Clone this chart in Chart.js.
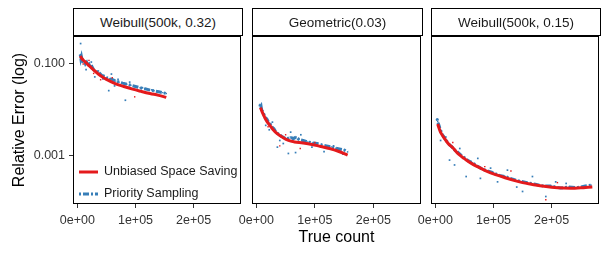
<!DOCTYPE html>
<html>
<head>
<meta charset="utf-8">
<script src="https://cdn.jsdelivr.net/npm/chart.js@4"></script>
<style>
  body { margin: 0; background: #fff; width: 609px; height: 254px; overflow: hidden; position: relative; }
  .panel { position: absolute; top: 32px; height: 222px; }
  .strip {
    position: absolute; top: 8px; height: 26px; border: 1px solid #000; box-sizing: content-box;
    font: 13.5px "Liberation Sans", Arial, sans-serif; color: #1a1a1a;
    display: flex; align-items: center; justify-content: center; background: #fff;
  }
</style>
</head>
<body>
<div class="panel" style="left:0;width:245px;"><canvas id="p0"></canvas></div>
<div class="panel" style="left:232px;width:193px;"><canvas id="p1"></canvas></div>
<div class="panel" style="left:411px;width:192px;"><canvas id="p2"></canvas></div>
<div class="strip" style="left:73px;width:168px;" id="strip0"></div>
<div class="strip" style="left:252px;width:169px;" id="strip1"></div>
<div class="strip" style="left:431px;width:168px;" id="strip2"></div>
<script>
// shared axes
const xTickValues = [0, 100000, 200000];
const xTickLabels = ['0e+00', '1e+05', '2e+05'];
const yTickValues = [0.001, 0.1];
const yTickLabels = ['0.001', '0.100'];
const panelTitles = ['Weibull(500k, 0.32)', 'Geometric(0.03)', 'Weibull(500k, 0.15)'];
const seriesNames = ['Unbiased Space Saving', 'Priority Sampling'];

// Weibull(500k, 0.32)
const w32UssCount = [5000, 8000, 12000, 16000, 20000, 25000, 30000, 40000, 50000, 65000, 80000, 95000, 110000, 125000, 140000, 153000];
const w32UssError = [0.15, 0.13, 0.115, 0.103, 0.092, 0.08, 0.07, 0.055, 0.046, 0.037, 0.032, 0.028, 0.025, 0.0225, 0.0205, 0.0185];
const w32PsCount = [5000, 6000, 7000, 8000, 9000, 10000, 12000, 14000, 16000, 18000, 20000, 22000, 25000, 28000, 31000, 34000, 38000, 42000, 46000, 50000, 55000, 60000, 66000, 72000, 78000, 85000, 92000, 100000, 108000, 116000, 124000, 132000, 140000, 147000, 153000];
const w32PsError = [0.16, 0.13, 0.145, 0.125, 0.13, 0.115, 0.118, 0.10, 0.108, 0.092, 0.098, 0.085, 0.088, 0.075, 0.072, 0.066, 0.063, 0.056, 0.054, 0.050, 0.047, 0.046, 0.042, 0.040, 0.038, 0.036, 0.034, 0.032, 0.030, 0.0285, 0.027, 0.0258, 0.0245, 0.0235, 0.0225];
const w32PsStrayCount = [5600, 58600, 82600, 54000, 70000, 30000, 15000, 24000, 36000, 44000, 64000, 90000, 112000, 128000];
const w32PsStrayError = [0.28, 0.06, 0.016, 0.026, 0.046, 0.052, 0.075, 0.11, 0.07, 0.047, 0.033, 0.04, 0.03, 0.027];
const w32UssStrayCount = [98600, 40000, 20000, 10000, 28000, 60000];
const w32UssStrayError = [0.019, 0.045, 0.12, 0.1, 0.062, 0.05];

// Geometric(0.03)
const geoUssCount = [7000, 10000, 14000, 18000, 23000, 28000, 35000, 44000, 55000, 65000, 80000, 95000, 110000, 125000, 140000, 156000];
const geoUssError = [0.011, 0.0088, 0.0068, 0.0055, 0.0045, 0.0037, 0.003, 0.0025, 0.0021, 0.00195, 0.00185, 0.00172, 0.00155, 0.0014, 0.00122, 0.001];
const geoPsCount = [6000, 7000, 8000, 9000, 10000, 12000, 14000, 16000, 18000, 20000, 23000, 26000, 30000, 34000, 38000, 43000, 48000, 53000, 58000, 63000, 68000, 73000, 80000, 88000, 96000, 104000, 112000, 120000, 128000, 136000, 144000, 150000, 156000];
const geoPsError = [0.013, 0.0112, 0.0118, 0.0098, 0.0095, 0.0082, 0.0075, 0.0066, 0.0062, 0.0055, 0.005, 0.0042, 0.0038, 0.0031, 0.0029, 0.0026, 0.0024, 0.0023, 0.0025, 0.0023, 0.0025, 0.0022, 0.0021, 0.00195, 0.00185, 0.0018, 0.00168, 0.0016, 0.00152, 0.00142, 0.00135, 0.0013, 0.00118];
const geoPsStrayCount = [54700, 67000, 35900, 58600, 27400, 115700, 46000, 16000, 22000, 40000, 76000, 95000, 132000, 148000];
const geoPsStrayError = [0.00109, 0.00114, 0.0015, 0.0032, 0.0053, 0.0012, 0.0018, 0.0045, 0.0036, 0.0021, 0.0028, 0.0015, 0.0016, 0.00105];
const geoUssStrayCount = [40000, 75000, 20000, 50000, 100000];
const geoUssStrayError = [0.0016, 0.0014, 0.0042, 0.0028, 0.0019];

// Weibull(500k, 0.15)
const w15UssCount = [4000, 7000, 10000, 15000, 22000, 30000, 40000, 50000, 62000, 75000, 90000, 105000, 120000, 135000, 150000, 165000, 180000, 200000, 220000, 240000, 255000, 270000];
const w15UssError = [0.0048, 0.0037, 0.003, 0.0024, 0.0018, 0.00145, 0.00105, 0.00084, 0.00066, 0.00054, 0.000435, 0.00037, 0.00032, 0.00028, 0.00025, 0.00023, 0.000213, 0.000198, 0.00019, 0.000189, 0.000194, 0.0002];
const w15PsCount = [3000, 4000, 5000, 6000, 7000, 8000, 10000, 12000, 14000, 17000, 20000, 24000, 28000, 33000, 38000, 44000, 50000, 57000, 64000, 72000, 80000, 90000, 100000, 110000, 120000, 132000, 145000, 158000, 172000, 186000, 200000, 215000, 230000, 245000, 258000, 268000];
const w15PsError = [0.0063, 0.0055, 0.005, 0.0046, 0.0042, 0.0036, 0.0033, 0.0028, 0.0026, 0.0022, 0.002, 0.0017, 0.00155, 0.0013, 0.00118, 0.001, 0.00088, 0.00075, 0.00068, 0.00058, 0.0005, 0.00045, 0.00041, 0.00036, 0.00034, 0.0003, 0.00027, 0.00025, 0.00023, 0.00021, 0.00021, 0.00019, 0.0002, 0.000195, 0.00021, 0.00022];
const w15PsStrayCount = [33000, 53000, 77500, 107000, 150000, 190000, 24400, 124000, 73000, 167000, 207000, 9000, 18000, 42000, 60000, 95000, 140000, 225000];
const w15PsStrayError = [0.00061, 0.00034, 0.00031, 0.00026, 0.00016, 0.000124, 0.00078, 0.00047, 0.00085, 0.00034, 0.00026, 0.0021, 0.0025, 0.0014, 0.0007, 0.00052, 0.0002, 0.00024];
const w15UssStrayCount = [190000, 60000, 130000, 30000, 85000, 210000];
const w15UssStrayError = [0.000105, 0.00068, 0.00045, 0.0019, 0.00056, 0.00025];

const RED = '#E41A1C';
const BLUE = '#377EB8';
const FONT = '"Liberation Sans", Arial, sans-serif';
const PS_DASH = [2, 2, 6, 2];

const zip = (xs, ys) => xs.map((x, i) => ({ x: x, y: ys[i] }));

const panels = [
  { uss: [w32UssCount, w32UssError], ps: [w32PsCount, w32PsError], psStray: [w32PsStrayCount, w32PsStrayError], ussStray: [w32UssStrayCount, w32UssStrayError] },
  { uss: [geoUssCount, geoUssError], ps: [geoPsCount, geoPsError], psStray: [geoPsStrayCount, geoPsStrayError], ussStray: [geoUssStrayCount, geoUssStrayError] },
  { uss: [w15UssCount, w15UssError], ps: [w15PsCount, w15PsError], psStray: [w15PsStrayCount, w15PsStrayError], ussStray: [w15UssStrayCount, w15UssStrayError] },
];

// black frame around each panel
const framePlugin = {
  id: 'frame',
  afterDraw(chart) {
    const a = chart.chartArea, ctx = chart.ctx;
    ctx.save();
    ctx.strokeStyle = '#000';
    ctx.lineWidth = 1;
    ctx.strokeRect(Math.round(a.left) + 0.5, Math.round(a.top) + 0.5, Math.round(a.right - a.left) - 1, Math.round(a.bottom - a.top) - 1);
    ctx.restore();
  }
};

// legend inside the first panel, bottom left
const insideLegend = {
  id: 'insideLegend',
  afterDraw(chart) {
    const ctx = chart.ctx;
    const a = chart.chartArea;
    const rows = [
      { y: a.top + 136, color: RED, width: 3, dash: [] },
      { y: a.top + 158, color: BLUE, width: 3, dash: PS_DASH },
    ];
    ctx.save();
    rows.forEach((r, i) => {
      ctx.beginPath();
      ctx.strokeStyle = r.color;
      ctx.lineWidth = r.width;
      ctx.setLineDash(r.dash);
      ctx.moveTo(79, r.y);
      ctx.lineTo(98, r.y);
      ctx.stroke();
      ctx.setLineDash([]);
      ctx.fillStyle = '#1a1a1a';
      ctx.font = '12.5px ' + FONT;
      ctx.textBaseline = 'middle';
      ctx.fillText(seriesNames[i], 104, r.y);
    });
    ctx.restore();
  }
};

function makeChart(idx) {
  const p = panels[idx];
  const first = idx === 0;
  const middle = idx === 1;
  document.getElementById('strip' + idx).textContent = panelTitles[idx];
  return new Chart(document.getElementById('p' + idx), {
    type: 'line',
    data: {
      datasets: [
        {
          label: seriesNames[0], data: zip(p.uss[0], p.uss[1]),
          borderColor: RED, backgroundColor: RED, borderWidth: 3, pointRadius: 0, tension: 0.4,
        },
        {
          label: 'uss-stray', data: zip(p.ussStray[0], p.ussStray[1]), showLine: false,
          pointStyle: 'rect', pointRadius: 1, borderWidth: 0, backgroundColor: RED,
        },
        {
          label: seriesNames[1], data: zip(p.ps[0], p.ps[1]),
          borderColor: BLUE, backgroundColor: BLUE, borderWidth: 3, borderDash: PS_DASH,
          pointStyle: 'rect', pointRadius: 1, pointBorderWidth: 0, tension: 0,
        },
        {
          label: 'ps-stray', data: zip(p.psStray[0], p.psStray[1]), showLine: false,
          pointStyle: 'rect', pointRadius: 1.2, borderWidth: 0, backgroundColor: BLUE,
        },
      ]
    },
    options: {
      responsive: true,
      maintainAspectRatio: false,
      animation: false,
      layout: { padding: { left: first ? 0 : 20, right: 3, top: 0, bottom: 0 } },
      plugins: { legend: { display: false }, tooltip: { enabled: false } },
      scales: {
        x: {
          type: 'linear', min: -7500, max: 281500,
          afterBuildTicks: s => { s.ticks = xTickValues.map(v => ({ value: v })); },
          afterFit: s => { s.height = 50; s.paddingLeft = 0; s.paddingRight = 0; },
          ticks: {
            padding: 5, color: '#333', font: { family: FONT, size: 12.5 },
            callback: v => xTickLabels[xTickValues.indexOf(v)],
          },
          grid: { drawOnChartArea: false, drawTicks: true, tickLength: 4, color: '#333' },
          border: { display: false },
          title: {
            display: middle, text: 'True count', color: '#000',
            font: { family: FONT, size: 16 }, padding: { top: 0, bottom: 7 },
          },
        },
        y: {
          type: 'logarithmic', min: 0.000085, max: 0.41,
          display: first,
          afterBuildTicks: s => { s.ticks = yTickValues.map(v => ({ value: v })); },
          afterFit: s => { s.width = first ? 73 : 0; s.paddingTop = 0; s.paddingBottom = 0; },
          ticks: {
            padding: 4, color: '#333', font: { family: FONT, size: 12.5 },
            callback: v => yTickLabels[yTickValues.indexOf(v)],
          },
          grid: { drawOnChartArea: false, drawTicks: true, tickLength: 4, color: '#333' },
          border: { display: false },
          title: {
            display: first, text: 'Relative Error (log)', color: '#000',
            font: { family: FONT, size: 16 }, padding: { top: 10, bottom: 0 },
          },
        },
      },
    },
    plugins: first ? [framePlugin, insideLegend] : [framePlugin],
  });
}

[0, 1, 2].forEach(makeChart);
</script>
</body>
</html>
